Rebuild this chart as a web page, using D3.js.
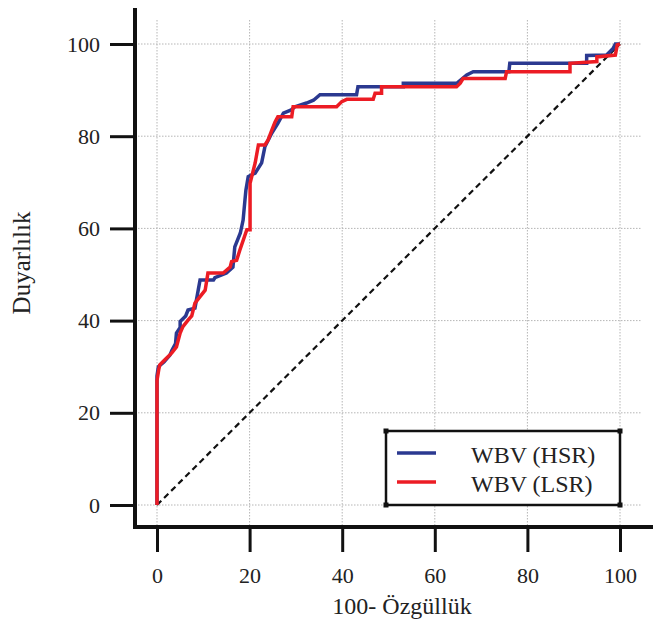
<!DOCTYPE html>
<html>
<head>
<meta charset="utf-8">
<script src="https://cdn.jsdelivr.net/npm/d3@7"></script>
<style>
  body { margin: 0; background: #fff; }
  text { font-family: "Liberation Serif", "Times New Roman", serif; fill: #222; }
</style>
</head>
<body>
<script>
// Datos de las curvas ROC (100-Özgüllük, Duyarlılık)
const hsr = [[0,0],[0,28],[0.3,30],[1.5,31],[2.8,32.5],[3.2,33.5],[4,35],[4.2,37.3],[5,38.5],[5,39.8],[6.2,41],[6.7,42.3],[8.2,42.7],[8.9,46.6],[9.3,48.8],[12.2,48.8],[12.5,49.3],[15,50.3],[16.4,51.6],[16.8,56],[18,59],[18.6,61.8],[19,66.2],[19.2,68.3],[19.7,71.2],[21.2,72],[22.6,74.2],[23.3,77.7],[24.8,80.7],[26.1,82.8],[27.3,85],[29,85.7],[29.8,86.4],[32.3,87.2],[33.8,87.8],[35.2,89],[43.1,89],[43.4,90.7],[53.2,90.7],[53.2,91.5],[64.8,91.5],[66.9,93.3],[68.3,94],[76,94],[76.2,95.8],[92.8,95.8],[92.8,97.5],[97.1,97.6],[98.5,99],[99,100],[100,100]];
const lsr = [[0,0],[0,27],[0.4,29.5],[0.6,30.4],[1.7,31.5],[3.2,33],[4.2,34.3],[5,37.3],[5.6,38.7],[6.7,40.1],[7.5,41],[8.2,43.8],[9.3,45.2],[10.4,46.6],[11,50.3],[14.3,50.3],[15.8,51.6],[16.1,52.8],[17.2,53.1],[17.9,55.3],[19.4,59.7],[20.1,59.7],[20.1,69.8],[21.2,74.2],[21.9,78.1],[23.3,78.1],[24,79.2],[24.8,81.3],[25.5,83.1],[26.1,84.2],[29.1,84.2],[29.4,86.4],[38.8,86.4],[39.9,87.5],[41,88],[46.7,88],[47.1,89.3],[48.5,89.3],[48.5,90.7],[64.7,90.7],[65.5,91.5],[66.1,92.5],[75.2,92.5],[75.5,94],[89.2,94],[89.2,95.8],[95,96.2],[95,97.2],[99,97.6],[99.4,99.8],[100,100]];
const referencia = [[0,0],[100,100]];
const ticks = [0, 20, 40, 60, 80, 100];
const series = ["WBV (HSR)", "WBV (LSR)"];
const colores = ["#2b3990", "#ec1c24"];

const width = 653, height = 626;
const svg = d3.select("body").append("svg")
  .attr("width", width).attr("height", height);

const x = d3.scaleLinear().domain([0, 100]).range([157, 620]);
const y = d3.scaleLinear().domain([0, 100]).range([505, 44]);

const ejeX = 527, ejeY = 135;

// Grilla punteada
svg.append("g").selectAll("line.v")
  .data(ticks).join("line")
  .attr("x1", d => x(d)).attr("x2", d => x(d))
  .attr("y1", 20).attr("y2", ejeX)
  .attr("stroke", "#b5b5b5").attr("stroke-width", 1).attr("stroke-dasharray", "1.5,1.5");
svg.append("g").selectAll("line.h")
  .data(ticks).join("line")
  .attr("x1", ejeY).attr("x2", 642)
  .attr("y1", d => y(d)).attr("y2", d => y(d))
  .attr("stroke", "#b5b5b5").attr("stroke-width", 1).attr("stroke-dasharray", "1.5,1.5");

// Ejes
const axisY = d3.axisLeft(y).tickValues(ticks).tickSize(25).tickPadding(10);
const gy = svg.append("g").attr("transform", `translate(${ejeY},0)`).call(axisY);
const axisX = d3.axisBottom(x).tickValues(ticks).tickSize(25).tickPadding(15);
const gx = svg.append("g").attr("transform", `translate(0,${ejeX})`).call(axisX);
[gx, gy].forEach(g => {
  g.select(".domain").remove();
  g.selectAll(".tick line").attr("stroke", "#111").attr("stroke-width", 3);
  g.selectAll(".tick text").attr("font-size", 22).attr("fill", "#222");
});
svg.append("line").attr("x1", ejeY).attr("x2", ejeY).attr("y1", 8).attr("y2", ejeX + 2)
  .attr("stroke", "#111").attr("stroke-width", 4);
svg.append("line").attr("x1", ejeY - 2).attr("x2", width).attr("y1", ejeX).attr("y2", ejeX)
  .attr("stroke", "#111").attr("stroke-width", 4);

// Línea de referencia
const linea = d3.line().x(d => x(d[0])).y(d => y(d[1]));
svg.append("path").datum(referencia).attr("d", linea)
  .attr("fill", "none").attr("stroke", "#111").attr("stroke-width", 2.2).attr("stroke-dasharray", "6,4");

// Curvas
[hsr, lsr].forEach((d, i) => {
  svg.append("path").datum(d).attr("d", linea)
    .attr("fill", "none").attr("stroke", colores[i]).attr("stroke-width", 3.5)
    .attr("stroke-linejoin", "miter");
});

// Títulos
svg.append("text").attr("x", 402).attr("y", 614).attr("text-anchor", "middle")
  .attr("font-size", 24).text("100- Özgüllük");
svg.append("text").attr("transform", "translate(30,263) rotate(-90)")
  .attr("text-anchor", "middle").attr("font-size", 25).text("Duyarlılık");

// Leyenda
const ley = svg.append("g");
ley.append("rect").attr("x", 386).attr("y", 431).attr("width", 234).attr("height", 74)
  .attr("fill", "#fff").attr("stroke", "#111").attr("stroke-width", 2.5);
[[386,431],[620,431],[386,505],[620,505]].forEach(p => {
  ley.append("rect").attr("x", p[0] - 2.5).attr("y", p[1] - 2.5).attr("width", 5).attr("height", 5).attr("fill", "#111");
});
series.forEach((s, i) => {
  const yy = 453 + i * 29;
  ley.append("line").attr("x1", 397).attr("x2", 436).attr("y1", yy).attr("y2", yy)
    .attr("stroke", colores[i]).attr("stroke-width", 3.5);
  ley.append("text").attr("x", 471).attr("y", yy + 10).attr("font-size", 24).text(s);
});
</script>
</body>
</html>
